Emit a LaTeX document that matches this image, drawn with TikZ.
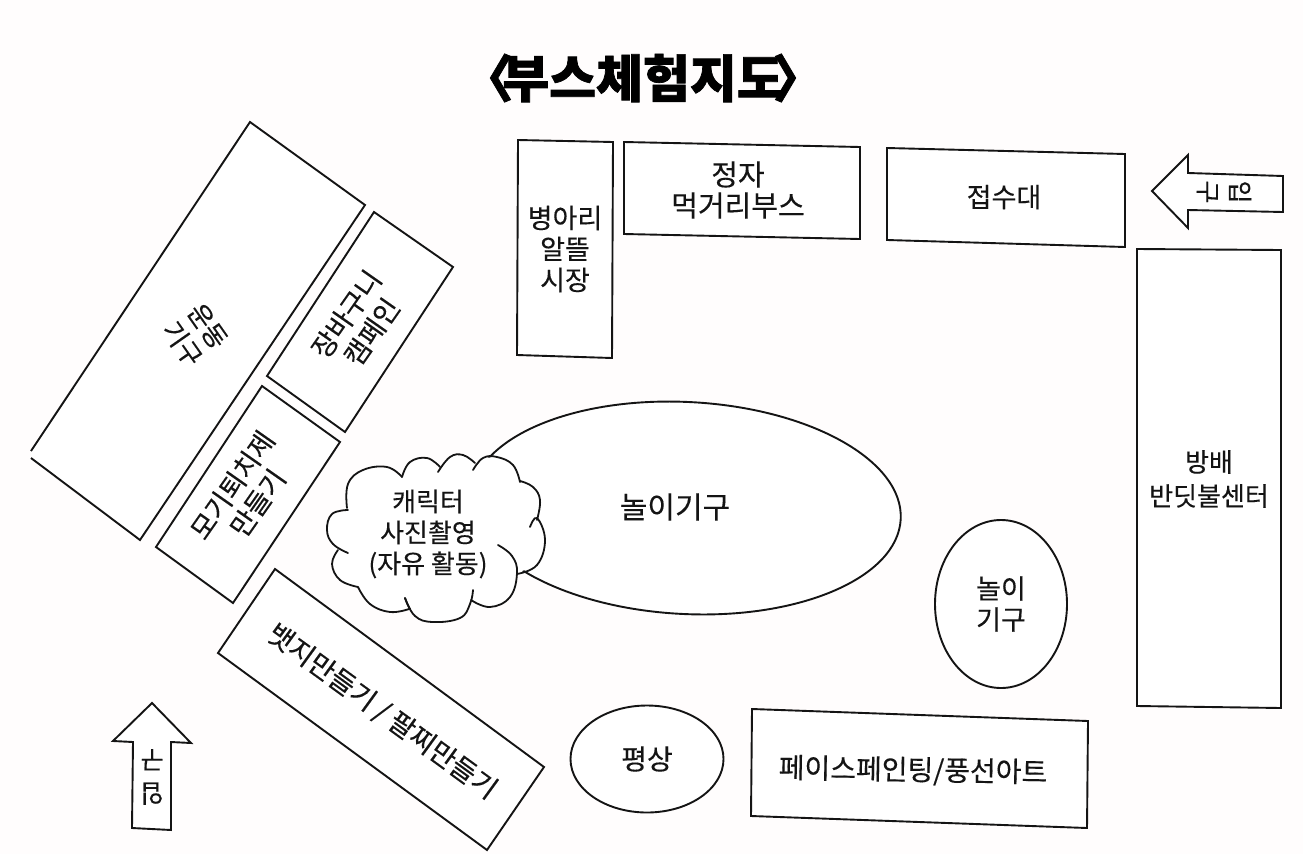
\documentclass[tikz,border=0pt]{standalone}
\usepackage{fontspec}
\setmainfont{Noto Sans CJK KR}[FakeBold=0.25]
\newfontfamily\titlefont{Noto Sans CJK KR}[FakeBold=1.4]
\usetikzlibrary{shapes.geometric}
\definecolor{ink}{HTML}{141414}
\definecolor{paper}{HTML}{FFFDFD}
\newcommand{\fsz}[2]{\fontsize{#1}{#2}\selectfont}
\tikzset{
  outline/.style={draw=ink,line width=1.9pt,line join=miter,fill=white},
  lbl/.style={text=ink,align=center,inner sep=0pt,font=\fsz{27}{31}},
  oval/.style={ellipse,draw=ink,line width=1.9pt,fill=white,inner sep=0pt,align=center,text=ink},
  bump/.style={draw=ink,line width=1.8pt,line cap=round},
}
\begin{document}
\begin{tikzpicture}[x=1pt,y=-1pt]
\useasboundingbox (0,0) rectangle (1303,854);
\fill[paper] (0,0) rectangle (1303,854);
% title
\node[text=black,inner sep=0pt,font=\titlefont\bfseries\fsz{51}{56}] (title) at (643,78)
  {\kern-.5em〈\kern-.22em 부스체험지도\kern-.22em〉\kern-.5em};
% slanted booths on the left
\draw[outline] (31,451) -- (250,122) -- (365,205) -- (140,540) -- (31,458);
\node[lbl,rotate=-55,font=\fsz{26}{31}] (undong) at (195,335) {운동\\기구};
\draw[outline] (374,212) -- (453,267) -- (345,432) -- (267,376) -- cycle;
\node[lbl,rotate=55] (jangbaguni) at (359,323) {장바구니\\캠페인};
\draw[outline] (262,386) -- (340,442) -- (233,603) -- (156,547) -- cycle;
\node[lbl,rotate=55] (mosquito) at (245,494) {모기퇴치제\\만들기};
\draw[outline] (275,569) -- (544,767) -- (487,850) -- (218,653) -- cycle;
\node[lbl,rotate=-36,font=\fsz{27.5}{31}] (badge) at (382,712) {뱃지만들기 / 팔찌만들기};
% top row
\draw[outline] (518,140) -- (613,142) -- (612,358) -- (517,355) -- cycle;
\node[lbl] (market) at (565,249) {병아리\\알뜰\\시장};
\draw[outline] (624,142) -- (860,147) -- (860,239) -- (624,234) -- cycle;
\node[lbl,font=\fsz{29}{31}] (food) at (738,190) {정자\\먹거리부스};
\draw[outline] (887,148) -- (1125,154) -- (1125,247) -- (887,240) -- cycle;
\node[lbl] (desk) at (1004,197) {접수대};
\draw[outline] (1137,249) -- (1281,250) -- (1281,708) -- (1137,706) -- cycle;
\node[lbl,font=\fsz{26}{34}] (center) at (1209,479) {방배\\반딧불센터};
% entrance arrows
\draw[outline] (1152,191) -- (1188,155) -- (1188,173) -- (1283,176) -- (1283,212) -- (1188,210) -- (1188,228) -- cycle;
\node[lbl,rotate=-90,font=\fsz{25}{32}] (entryA) at (1224,192) {입\\구};
\draw[outline] (152,703) -- (191,743) -- (171,742) -- (171,830) -- (132,828) -- (133,742) -- (113,741) -- cycle;
\node[lbl,rotate=180,font=\fsz{25}{33}] (entryB) at (152,777) {입\\구};
% ride
\node[oval,minimum width=430pt,minimum height=212pt,rotate=-3] (rideA) at (686,508) {};
\node[lbl,font=\fsz{30}{31}] (rideAt) at (675,507) {놀이기구};
% cloud
\fill[white] (347,510) -- (330,515) -- (327,530) -- (333,543) -- (332,563) -- (340,580) -- (357,588)
  -- (370,605) -- (390,612) -- (407,609) -- (415,617) -- (433,622) -- (460,618) -- (470,605)
  -- (490,610) -- (510,597) -- (517,573) -- (537,565) -- (545,540) -- (537,518) -- (540,500)
  -- (533,487) -- (520,482) -- (513,465) -- (497,457) -- (483,458) -- (475,463) -- (463,455)
  -- (450,457) -- (438,472) -- (427,458) -- (410,462) -- (402,477) -- (387,468) -- (363,470) -- (348,483) -- cycle;
\draw[bump] plot[smooth,tension=.7] coordinates {(347,508) (348,484) (363,470) (387,467) (402,477)};
\draw[bump] plot[smooth,tension=.7] coordinates {(348,510) (332,514) (327,530) (333,544) (348,553)};
\draw[bump] plot[smooth,tension=.7] coordinates {(338,550) (332,564) (340,580) (358,587)};
\draw[bump] plot[smooth,tension=.7] coordinates {(358,587) (370,604) (390,612) (409,609)};
\draw[bump] (405,598) .. controls (407,603) and (408,606) .. (410,609);
\draw[bump] plot[smooth,tension=.7] coordinates {(405,598) (415,616) (433,622) (460,618) (470,604) (473,590)};
\draw[bump] plot[smooth,tension=.7] coordinates {(471,600) (490,607) (510,597) (517,573) (512,556) (498,545)};
\draw[bump] plot[smooth,tension=.7] coordinates {(517,574) (537,565) (545,540) (537,518) (530,527)};
\draw[bump] plot[smooth,tension=.7] coordinates {(537,520) (540,500) (533,487) (520,481)};
\draw[bump] plot[smooth,tension=.7] coordinates {(520,482) (513,465) (497,457) (483,458) (473,470)};
\draw[bump] plot[smooth,tension=.7] coordinates {(475,463) (463,455) (450,457) (438,472)};
\draw[bump] plot[smooth,tension=.7] coordinates {(440,467) (427,458) (410,462) (402,477)};
\node[lbl,font=\fsz{26}{31}] (photo) at (428,534) {캐릭터\\사진촬영\\(자유 활동)};
% small ride, platform, face painting
\node[oval,minimum width=132pt,minimum height=168pt,font=\fsz{27}{31}] (rideB) at (1001,604) {놀이\\기구};
\node[oval,minimum width=153pt,minimum height=107pt,font=\fsz{28}{31}] (rest) at (647,759) {평상};
\draw[outline] (752,709) -- (1088,721) -- (1087,828) -- (751,816) -- cycle;
\node[lbl,rotate=-1,font=\fsz{28}{31}] (face) at (913,771) {페이스페인팅/풍선아트};
\end{tikzpicture}
\end{document}
